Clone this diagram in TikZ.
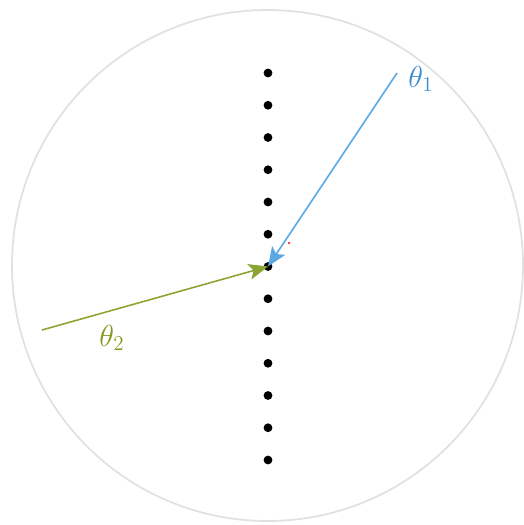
\documentclass[tikz,border=0pt]{standalone}
\usepackage{tikz}
\usetikzlibrary{arrows.meta, positioning}
\usepackage{xcolor}

\definecolor{rayblue}{RGB}{92,168,228}
\definecolor{labelblue}{RGB}{60,140,210}
\definecolor{raygreen}{RGB}{140,165,50}
\definecolor{labelgreen}{RGB}{130,155,30}
\definecolor{rimgray}{RGB}{225,225,225}

\tikzset{
  site/.style={circle, fill=black, inner sep=0pt, minimum size=5pt},
  ray/.style={line width=0.9pt, -{Stealth[length=11pt, width=9pt, inset=2.5pt]}},
  anglabel/.style={font=\fontsize{17}{19}\selectfont}
}

\begin{document}
\begin{tikzpicture}[x=0.02cm, y=-0.02cm]
  \useasboundingbox (0,0) rectangle (524,525);

  % outer circle
  \node[draw=rimgray, line width=1pt, circle, minimum size=511*0.02cm, inner sep=0pt] (rim) at (267.5,265.5) {};

  % column of sites
  \foreach \i in {0,...,12}
    \node[site] (d\i) at (268,73+32.25*\i) {};

  % incoming rays
  \coordinate (s1) at (397,73);
  \coordinate (s2) at (42,330);
  \draw[ray, rayblue] (s1) -- (d6.center);
  \draw[ray, raygreen] (s2) -- (d6.center);

  % labels
  \node[anglabel, text=labelblue] (t1) at (421,79) {$\theta_1$};
  \node[anglabel, text=labelgreen] (t2) at (112,338) {$\theta_2$};

  % small red mark
  \fill[red] (289,243) circle (0.6pt);
\end{tikzpicture}
\end{document}
